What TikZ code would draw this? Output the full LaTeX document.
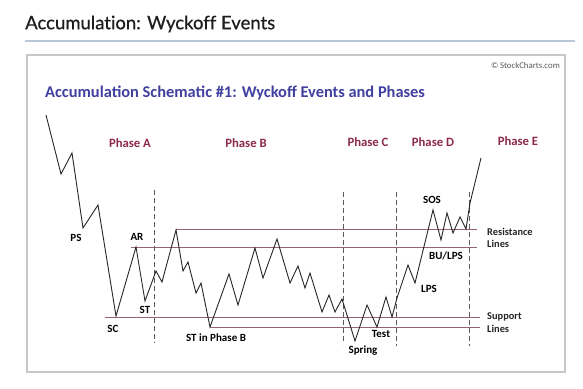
\documentclass[tikz,border=0pt]{standalone}
\usepackage{fontspec}
\setmainfont{Carlito}
\newfontfamily\hdrfont[Ligatures=CommonOff,FakeBold=0.6]{Lato}
\definecolor{titleblue}{RGB}{64,64,160}
\definecolor{phasered}{RGB}{140,42,72}
\definecolor{levelline}{RGB}{150,100,112}
\definecolor{boxgrey}{RGB}{200,200,200}
\definecolor{rulegrey}{RGB}{184,200,216}
\definecolor{hdrtext}{RGB}{30,30,30}
\tikzset{
  phaselbl/.style={text=phasered,font=\bfseries\fontsize{12.7}{13}\selectfont,inner sep=0pt},
  eventlbl/.style={text=black,font=\bfseries\fontsize{11}{11.5}\selectfont,inner sep=0pt},
  sidelbl/.style={text=black!85,font=\bfseries\fontsize{10.4}{11}\selectfont,inner sep=0pt,anchor=west},
  level/.style={draw=levelline,line width=1pt},
  phasesep/.style={draw=black!65,line width=0.9pt,dash pattern=on 5pt off 3pt},
  price/.style={draw=black!85,line width=0.9pt,line join=miter}
}
\begin{document}
\begin{tikzpicture}[x=1pt,y=-1pt]
\useasboundingbox (0,0) rectangle (583,388);
\fill[white] (0,0) rectangle (583,388);
% header
\node[anchor=west,inner sep=0pt,text=hdrtext,font=\hdrfont\fontsize{18.5}{19}\selectfont] (hdr) at (25,24) {Accumulation: Wyckoff Events};
\draw[rulegrey,line width=2pt] (25,41) -- (575,41);
% frame
\draw[boxgrey,line width=1.3pt] (27,55) rectangle (565,372);
\node[anchor=east,inner sep=0pt,text=black!65,font=\fontsize{8.8}{9}\selectfont] (copy) at (560,65) {\textcopyright\,StockCharts.com};
\node[anchor=west,inner sep=0pt,text=titleblue,font=\bfseries\fontsize{16.4}{17}\selectfont] (title) at (45,93) {Accumulation Schematic \#1: Wyckoff Events and Phases};
% phases
\node[phaselbl] (pa) at (130,143) {Phase A};
\node[phaselbl] (pb) at (246,143) {Phase B};
\node[phaselbl] (pc) at (368,142) {Phase C};
\node[phaselbl] (pd) at (433,142) {Phase D};
\node[phaselbl] (pe) at (518,141) {Phase E};
% levels
\coordinate (r1a) at (176,229); \coordinate (r1b) at (477,229);
\coordinate (r2a) at (131,247); \coordinate (r2b) at (477,247);
\coordinate (s1a) at (105,317); \coordinate (s1b) at (480,317);
\coordinate (s2a) at (210,327); \coordinate (s2b) at (480,327);
\draw[level] (r1a) -- (r1b);
\draw[level] (r2a) -- (r2b);
\draw[level] (s1a) -- (s1b);
\draw[level] (s2a) -- (s2b);
% phase separators
\coordinate (d1a) at (154,190); \coordinate (d1b) at (154,343);
\coordinate (d2a) at (343,192); \coordinate (d2b) at (343,344);
\coordinate (d3a) at (396,192); \coordinate (d3b) at (396,346);
\coordinate (d4a) at (469,192); \coordinate (d4b) at (469,346);
\draw[phasesep] (d1a) -- (d1b);
\draw[phasesep] (d2a) -- (d2b);
\draw[phasesep] (d3a) -- (d3b);
\draw[phasesep] (d4a) -- (d4b);
% price path
\draw[price] (46,115) -- (61,174) -- (72,153) -- (83,228) -- (98,205) -- (116,316)
  -- (136,247) -- (145,301) -- (156,271) -- (162,282) -- (176,230) -- (183,271)
  -- (188,262) -- (196,293) -- (201,283) -- (210,327) -- (229,274) -- (238,305)
  -- (255,248) -- (263,278) -- (277,239) -- (290,283) -- (298,266) -- (305,288)
  -- (310,273) -- (322,312) -- (329,295) -- (335,312) -- (342,299) -- (355,341)
  -- (367,305) -- (377,327) -- (386,297) -- (392,317) -- (397,298) -- (408,265)
  -- (415,283) -- (433,210) -- (441,240) -- (447,213) -- (453,233) -- (460,217)
  -- (466,229) -- (470,203) -- (481,158);
% event labels
\node[eventlbl] (ps) at (76,238) {PS};
\node[eventlbl] (ar) at (137,237) {AR};
\node[eventlbl] (sc) at (113,329) {SC};
\node[eventlbl] (st) at (145,310) {ST};
\node[eventlbl] (stb) at (216,338) {ST in Phase B};
\node[eventlbl] (spring) at (363,351) {Spring};
\node[eventlbl] (test) at (381,334) {Test};
\node[eventlbl] (lps) at (429,289) {LPS};
\node[eventlbl] (bulps) at (446,256) {BU/LPS};
\node[eventlbl] (sos) at (432,200) {SOS};
% side labels
\node[sidelbl] (res1) at (487,232) {Resistance};
\node[sidelbl] (res2) at (487,244) {Lines};
\node[sidelbl] (sup1) at (487,317) {Support};
\node[sidelbl] (sup2) at (487,329) {Lines};
\end{tikzpicture}
\end{document}
